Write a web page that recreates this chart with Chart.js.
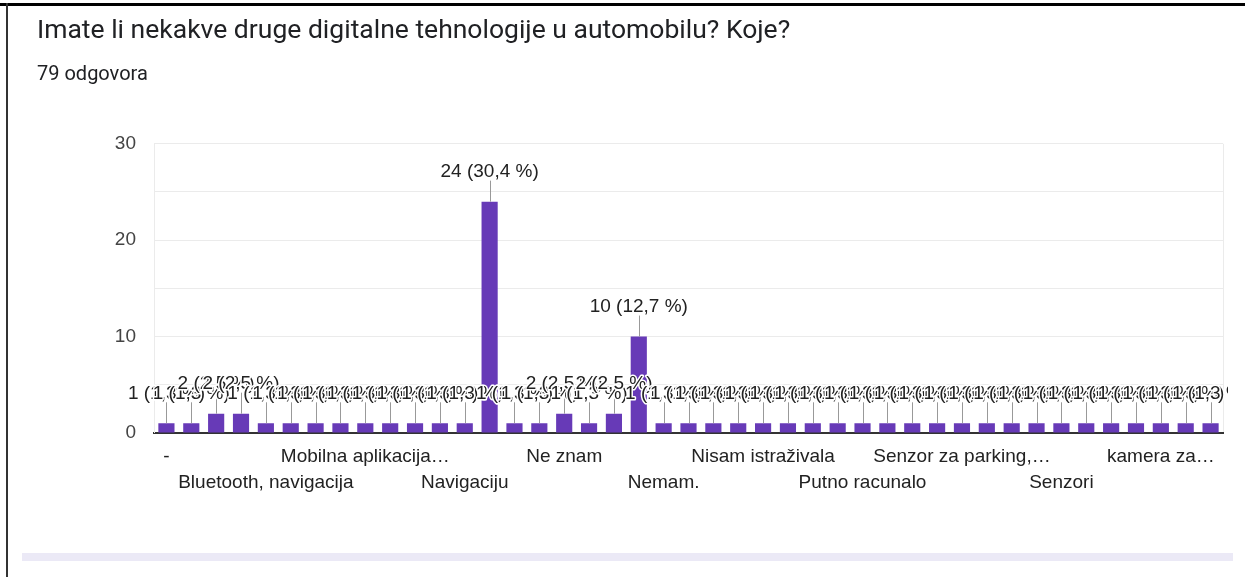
<!DOCTYPE html>
<html>
<head>
<meta charset="utf-8">
<script src="https://cdn.jsdelivr.net/npm/chart.js@4"></script>
<style>
html,body{margin:0;padding:0;background:#fff;}
#wrap{position:relative;width:1245px;height:577px;}
canvas{display:block;}
</style>
</head>
<body>
<div id="wrap"><canvas id="c" width="1245" height="577"></canvas></div>
<script>
const titleText = "Imate li nekakve druge digitalne tehnologije u automobilu? Koje?";
const subtitleText = "79 odgovora";
const totalResponses = 79;
// 43 categories; only every 4th label is visible in the reference
const categories = [
  "-", "", "", "", "Bluetooth, navigacija", "", "", "", "Mobilna aplikacija…", "", "", "",
  "Navigaciju", "", "", "", "Ne znam", "", "", "", "Nemam.", "", "", "",
  "Nisam istraživala", "", "", "", "Putno racunalo", "", "", "", "Senzor za parking,…", "", "", "",
  "Senzori", "", "", "", "kamera za…", "", ""
];
const counts = [
  1, 1, 2, 2, 1, 1, 1, 1, 1, 1, 1, 1, 1, 24, 1, 1, 2, 1, 2, 10,
  1, 1, 1, 1, 1, 1, 1, 1, 1, 1, 1, 1, 1, 1, 1, 1, 1, 1, 1, 1, 1, 1, 1
];
const yTicks = [0, 10, 20, 30];

const FONT = "'Liberation Sans', Arial, sans-serif";

const framePlugin = {
  id: 'frame',
  beforeDraw(chart) {
    const ctx = chart.ctx;
    ctx.save();
    ctx.fillStyle = '#ebe9f6';
    ctx.fillRect(22, 553, 1211, 8);
    const a = chart.chartArea;
    ctx.strokeStyle = '#ebebeb';
    ctx.lineWidth = 1;
    ctx.beginPath();
    ctx.moveTo(Math.round(a.right) + 0.5, a.top);
    ctx.lineTo(Math.round(a.right) + 0.5, a.bottom);
    ctx.stroke();
    ctx.restore();
  },
  afterDraw(chart) {
    const ctx = chart.ctx;
    ctx.save();
    ctx.fillStyle = '#000';
    ctx.fillRect(0, 3, 1245, 3);
    ctx.fillStyle = '#333';
    ctx.fillRect(6, 3, 2, 574);
    ctx.restore();
  }
};

const annotPlugin = {
  id: 'annot',
  afterDatasetsDraw(chart) {
    const ctx = chart.ctx;
    const meta = chart.getDatasetMeta(0);
    ctx.save();
    ctx.strokeStyle = '#999';
    ctx.lineWidth = 1;
    meta.data.forEach((bar) => {
      const x = Math.round(bar.x) + 0.5;
      ctx.beginPath();
      ctx.moveTo(x, bar.y);
      ctx.lineTo(x, bar.y - 21);
      ctx.stroke();
    });
    ctx.beginPath();
    ctx.rect(0, 0, 1228, 577);
    ctx.clip();
    ctx.font = '19px ' + FONT;
    ctx.textAlign = 'center';
    ctx.textBaseline = 'middle';
    ctx.lineJoin = 'round';
    meta.data.forEach((bar, i) => {
      const v = counts[i];
      const pct = (v / totalResponses * 100).toFixed(1).replace('.', ',');
      const txt = v + ' (' + pct + ' %)';
      const y = bar.y - 30;
      ctx.strokeStyle = '#fff';
      ctx.lineWidth = 3;
      ctx.strokeText(txt, bar.x, y);
      ctx.fillStyle = '#222';
      ctx.fillText(txt, bar.x, y);
    });
    ctx.restore();
  }
};

new Chart(document.getElementById('c'), {
  type: 'bar',
  data: {
    labels: categories,
    datasets: [{
      data: counts,
      backgroundColor: '#673ab7',
      borderWidth: 0,
      barPercentage: 0.65,
      categoryPercentage: 1.0
    }]
  },
  options: {
    responsive: false,
    animation: false,
    events: [],
    layout: { padding: { left: 37, right: 22, top: 0, bottom: 70 } },
    plugins: {
      legend: { display: false },
      tooltip: { enabled: false },
      title: {
        display: true,
        text: titleText,
        align: 'start',
        color: '#202124',
        font: { family: 'Roboto', size: 26.5, weight: 'normal', lineHeight: 1.2 },
        padding: { top: 15, bottom: 0 }
      },
      subtitle: {
        display: true,
        text: subtitleText,
        align: 'start',
        color: '#202124',
        font: { family: 'Roboto', size: 20, weight: 'normal', lineHeight: 1.2 },
        padding: { top: 16, bottom: 57 }
      }
    },
    scales: {
      x: {
        grid: { display: false, drawTicks: false },
        border: { display: true, color: '#333', width: 2 },
        ticks: {
          autoSkip: false,
          maxRotation: 0,
          minRotation: 0,
          padding: 11,
          color: '#222',
          font: { family: FONT, size: 19, lineHeight: 1.37 },
          callback: function(value, index) {
            const lbl = categories[index];
            if (index % 8 === 0) return [lbl];
            if (index % 8 === 4) return ['', lbl];
            return '';
          }
        }
      },
      y: {
        min: 0,
        max: 30,
        afterFit(scale) { scale.width = 117; },
        grid: { color: '#ebebeb', drawTicks: false, lineWidth: 1 },
        border: { display: true, color: '#ebebeb' },
        ticks: {
          stepSize: 5,
          padding: 18,
          color: '#444',
          font: { family: FONT, size: 19 },
          callback: function(value) { return yTicks.includes(value) ? String(value) : ''; }
        }
      }
    }
  },
  plugins: [framePlugin, annotPlugin]
});
</script>
</body>
</html>
